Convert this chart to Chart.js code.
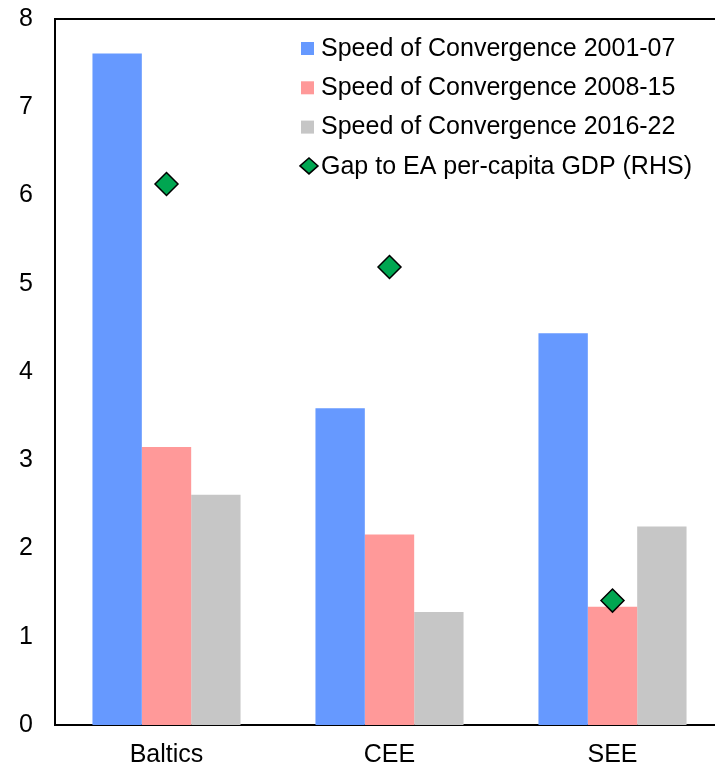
<!DOCTYPE html>
<html>
<head>
<meta charset="utf-8">
<script src="https://cdn.jsdelivr.net/npm/chart.js@4.4.1/dist/chart.umd.min.js"></script>
<style>
  html, body { margin: 0; padding: 0; background: #fff; overflow: hidden; }
  #wrap { position: relative; width: 740px; height: 767px; }
</style>
</head>
<body>
<div id="wrap"><canvas id="c" width="740" height="767"></canvas></div>
<script>
// Regions and series
const regions = ['Baltics', 'CEE', 'SEE'];
const speed2001_07 = [7.61, 3.59, 4.44];
const speed2008_15 = [3.15, 2.16, 1.34];
const speed2016_22 = [2.61, 1.28, 2.25];
const gapToEA = [6.13, 5.19, 1.41];
const seriesNames = [
  'Speed of Convergence 2001-07',
  'Speed of Convergence 2008-15',
  'Speed of Convergence 2016-22',
  'Gap to EA per-capita GDP (RHS)'
];
const yTicks = [0, 1, 2, 3, 4, 5, 6, 7, 8];

const FONT = '"Liberation Sans", Arial, sans-serif';
const colors = ['#6699FF', '#FF9999', '#C6C6C6', '#00A651'];

// Top border line and in-plot legend
const framePlugin = {
  id: 'frameAndLegend',
  afterDraw(chart) {
    const { ctx, chartArea } = chart;
    ctx.save();
    ctx.strokeStyle = '#000';
    ctx.lineWidth = 2;
    ctx.beginPath();
    ctx.moveTo(chartArea.left - 1, chartArea.top);
    ctx.lineTo(chartArea.right, chartArea.top);
    ctx.stroke();

    ctx.font = '25px ' + FONT;
    ctx.textBaseline = 'middle';
    ctx.textAlign = 'left';
    const x0 = 301, y0 = 48, step = 39.3;
    seriesNames.forEach((name, i) => {
      const y = y0 + i * step;
      if (i < 3) {
        ctx.fillStyle = colors[i];
        ctx.fillRect(x0, y - 6, 13, 13);
      } else {
        ctx.fillStyle = colors[3];
        ctx.strokeStyle = '#000';
        ctx.lineWidth = 1.5;
        ctx.beginPath();
        ctx.moveTo(x0 - 1, y);
        ctx.lineTo(x0 + 8, y - 8);
        ctx.lineTo(x0 + 17, y);
        ctx.lineTo(x0 + 8, y + 8);
        ctx.closePath();
        ctx.fill();
        ctx.stroke();
      }
      ctx.fillStyle = '#000';
      ctx.fillText(name, x0 + 20, y + 1);
    });
    ctx.restore();
  }
};

new Chart(document.getElementById('c'), {
  type: 'bar',
  data: {
    labels: regions,
    datasets: [
      { label: seriesNames[0], data: speed2001_07, backgroundColor: colors[0], yAxisID: 'y', order: 2 },
      { label: seriesNames[1], data: speed2008_15, backgroundColor: colors[1], yAxisID: 'y', order: 2 },
      { label: seriesNames[2], data: speed2016_22, backgroundColor: colors[2], yAxisID: 'y', order: 2 },
      {
        type: 'line', label: seriesNames[3], data: gapToEA, yAxisID: 'y1', order: 1,
        showLine: false, pointStyle: 'rectRot', pointRadius: 11.5, pointHoverRadius: 11.5,
        pointBackgroundColor: colors[3], pointBorderColor: '#000', pointBorderWidth: 1.5
      }
    ]
  },
  options: {
    responsive: false,
    animation: false,
    events: [],
    layout: { autoPadding: false, padding: { top: 19, right: 16, left: 0, bottom: 0 } },
    datasets: { bar: { categoryPercentage: 0.664, barPercentage: 1.0 } },
    plugins: { legend: { display: false }, tooltip: { enabled: false } },
    scales: {
      x: {
        grid: { display: false, drawTicks: false },
        border: { display: true, color: '#000', width: 2 },
        ticks: { color: '#000', font: { family: FONT, size: 25 }, padding: 15 },
        afterFit(scale) { scale.height = 42; scale.paddingLeft = 0; scale.paddingRight = 0; }
      },
      y: {
        min: 0, max: 8,
        afterBuildTicks(scale) { scale.ticks = yTicks.map(v => ({ value: v })); },
        grid: { display: false, drawTicks: false },
        border: { display: true, color: '#000', width: 2 },
        ticks: { color: '#000', font: { family: FONT, size: 25 }, padding: 22 },
        afterFit(scale) { scale.width = 55; scale.paddingTop = 0; scale.paddingBottom = 0; }
      },
      y1: { display: false, min: 0, max: 8 }
    }
  },
  plugins: [framePlugin]
});
</script>
</body>
</html>
